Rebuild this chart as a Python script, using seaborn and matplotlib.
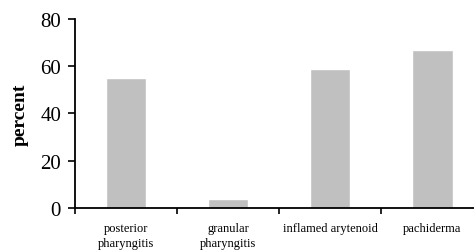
import pandas as pd
import matplotlib
matplotlib.use("Agg")
import matplotlib.pyplot as plt
import seaborn as sns

categories = ["posterior\npharyngitis", "granular\npharyngitis", "inflamed arytenoid", "pachiderma"]
percent = [55, 4, 59, 67]

df = pd.DataFrame({"category": categories, "percent": percent})

sns.set_style("ticks", {"axes.edgecolor": "black", "xtick.color": "black", "ytick.color": "black",
                        "text.color": "black", "axes.labelcolor": "black"})
plt.rcParams['font.family'] = ['Liberation Serif', 'DejaVu Serif']

fig = plt.figure(figsize=(4.74, 2.53), dpi=100)
ax = fig.add_axes([0.158, 0.174, 0.842, 0.747])
sns.barplot(data=df, x="category", y="percent", color="#c0c0c0", saturation=1, width=0.4, ax=ax)

# category boundaries get the tick marks, labels sit in the middle
ax.set_xticks([-0.5, 0.5, 1.5, 2.5, 3.5], minor=True)
ax.set_xlim(-0.5, 3.41)
ax.set_ylim(0, 80)
ax.set_yticks([0, 20, 40, 60, 80])
ax.set_xlabel("")
ax.set_ylabel("percent", fontsize=14, fontweight='bold', labelpad=8)

ax.tick_params(axis='x', which='major', length=0, labelsize=9, pad=10)
ax.tick_params(axis='x', which='minor', length=4, width=1.2, direction='out')
ax.tick_params(axis='y', length=5, width=1.2, labelsize=15, pad=5, direction='out')
for lbl in ax.get_xticklabels():
    lbl.set_linespacing(1.4)

sns.despine(ax=ax)
for s in ["left", "bottom"]:
    ax.spines[s].set_linewidth(1.3)

fig.savefig("out.png", dpi=100)
